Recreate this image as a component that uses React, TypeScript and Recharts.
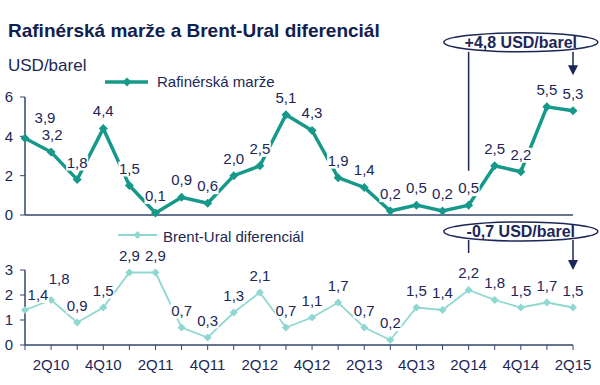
import React from 'react';
import { LineChart, Line, XAxis, YAxis, LabelList, ReferenceLine, ReferenceDot } from 'recharts';

const quarters = [
  '1Q10', '2Q10', '3Q10', '4Q10', '1Q11', '2Q11', '3Q11', '4Q11',
  '1Q12', '2Q12', '3Q12', '4Q12', '1Q13', '2Q13', '3Q13', '4Q13',
  '1Q14', '2Q14', '3Q14', '4Q14', '1Q15', '2Q15',
];
const refiningMargin = [3.9, 3.2, 1.8, 4.4, 1.5, 0.1, 0.9, 0.6, 2.0, 2.5, 5.1, 4.3, 1.9, 1.4, 0.2, 0.5, 0.2, 0.5, 2.5, 2.2, 5.5, 5.3];
const brentUral = [1.4, 1.8, 0.9, 1.5, 2.9, 2.9, 0.7, 0.3, 1.3, 2.1, 0.7, 1.1, 1.7, 0.7, 0.2, 1.5, 1.4, 2.2, 1.8, 1.5, 1.7, 1.5];
const topTicks = [0, 2, 4, 6];
const bottomTicks = [0, 1, 2, 3];

const topData = quarters.map((q, i) => ({ q, v: refiningMargin[i] }));
const bottomData = quarters.map((q, i) => ({ q, v: brentUral[i] }));

const NAVY = '#1c2757';
const AXIS = '#34466b';
const TEAL = '#16998a';
const LIGHT = '#8fd8d1';
const FONT = '"Liberation Sans", Arial, sans-serif';

const fmt = (v: number) => v.toFixed(1).replace('.', ',');

const diamond = (color: string, r: number) => (props: any) => {
  const { cx, cy, index } = props;
  if (cx == null || cy == null) return <g key={index} />;
  return (
    <path
      key={index}
      d={`M${cx},${cy - r}L${cx + r},${cy}L${cx},${cy + r}L${cx - r},${cy}Z`}
      fill={color}
    />
  );
};

// first two labels are nudged apart, as in the original
const valueLabel = (nudge: Record<number, [number, number]>) => (props: any) => {
  const { x, y, value, index } = props;
  const [dx, dy] = nudge[index] || [0, 0];
  const cx = x + dx;
  const cy = y - 17 + dy;
  return (
    <g key={index}>
      <rect x={cx - 11} y={cy - 7} width={22} height={15} fill="#fff" />
      <text x={cx} y={cy + 5} textAnchor="middle" fontSize={15} fontFamily={FONT} fill={NAVY}>
        {fmt(value)}
      </text>
    </g>
  );
};

const arrowShape = (props: any) => {
  const { x1, y1, x2, y2 } = props;
  return (
    <g>
      <line x1={x1} y1={y1} x2={x2} y2={y2 - 9} stroke={NAVY} strokeWidth={1.5} />
      <path d={`M${x2 - 5},${y2 - 10}L${x2 + 5},${y2 - 10}L${x2},${y2}Z`} fill={NAVY} />
    </g>
  );
};

const plainShape = (props: any) => {
  const { x1, y1, x2, y2 } = props;
  return <line x1={x1} y1={y1} x2={x2} y2={y2} stroke={NAVY} strokeWidth={1.5} />;
};

const bubble = (text: string) => (props: any) => {
  const { cx, cy } = props;
  return (
    <g>
      <ellipse cx={cx} cy={cy} rx={77} ry={9.5} fill="#fff" stroke={NAVY} strokeWidth={1.5} />
      <text x={cx} y={cy + 5.5} textAnchor="middle" fontSize={16} fontWeight="bold" fontFamily={FONT} fill={NAVY}>
        {text}
      </text>
    </g>
  );
};

const tickStyle = { fill: NAVY, fontSize: 15, fontFamily: FONT };

export default function App() {
  return (
    <div style={{ position: 'absolute', left: 0, top: 0, width: 600, height: 385, background: '#fff', fontFamily: FONT, color: NAVY }}>
      <div style={{ position: 'absolute', left: 8, top: 20, fontSize: 19, lineHeight: '22px', fontWeight: 'bold', color: '#10204f', whiteSpace: 'nowrap' }}>
        Rafinérská marže a Brent-Ural diferenciál
      </div>
      <div style={{ position: 'absolute', left: 8, top: 56, fontSize: 17, lineHeight: '19px' }}>USD/barel</div>

      <div style={{ position: 'absolute', left: 0, top: 0 }}>
        <LineChart width={600} height={222} data={topData} margin={{ top: 97, right: 27, bottom: 0, left: 0 }}>
          <XAxis dataKey="q" height={7} tick={false} tickLine={false} axisLine={{ stroke: AXIS, strokeWidth: 1.5 }} />
          <YAxis
            width={25}
            domain={[0, 6]}
            ticks={topTicks}
            interval={0}
            tick={tickStyle}
            tickSize={5}
            tickMargin={7}
            tickLine={{ stroke: AXIS }}
            axisLine={{ stroke: AXIS, strokeWidth: 1.5 }}
          />
          <Line
            dataKey="v"
            stroke={TEAL}
            strokeWidth={3.5}
            dot={diamond(TEAL, 4.5)}
            activeDot={false}
            isAnimationActive={false}
          >
            <LabelList dataKey="v" content={valueLabel({ 0: [20, -3], 1: [1, 0] })} />
          </Line>
          <ReferenceLine segment={[{ x: '2Q14', y: 2.25 }, { x: '2Q14', y: 8.3 }]} ifOverflow="visible" shape={plainShape} />
          <ReferenceLine segment={[{ x: '2Q15', y: 8.3 }, { x: '2Q15', y: 7.1 }]} ifOverflow="visible" shape={arrowShape} />
          <ReferenceDot x="4Q14" y={8.78} ifOverflow="visible" shape={bubble('+4,8 USD/barel')} />
        </LineChart>
      </div>

      <div style={{ position: 'absolute', left: 0, top: 215 }}>
        <LineChart width={600} height={170} data={bottomData} margin={{ top: 55, right: 27, bottom: 0, left: 0 }}>
          <XAxis
            dataKey="q"
            height={40}
            interval={0}
            tick={tickStyle}
            tickFormatter={(v: string, i: number) => (i % 2 === 1 ? v : '')}
            tickSize={5}
            tickMargin={9}
            tickLine={{ stroke: AXIS }}
            axisLine={{ stroke: AXIS, strokeWidth: 1.5 }}
          />
          <YAxis
            width={25}
            domain={[0, 3]}
            ticks={bottomTicks}
            interval={0}
            tick={tickStyle}
            tickSize={5}
            tickMargin={7}
            tickLine={{ stroke: AXIS }}
            axisLine={{ stroke: AXIS, strokeWidth: 1.5 }}
          />
          <Line
            dataKey="v"
            stroke={LIGHT}
            strokeWidth={1.8}
            dot={diamond(LIGHT, 4)}
            activeDot={false}
            isAnimationActive={false}
          >
            <LabelList dataKey="v" content={valueLabel({ 0: [13, 2], 1: [8, -4] })} />
          </Line>
          <ReferenceLine segment={[{ x: '2Q14', y: 3.68 }, { x: '2Q14', y: 4.2 }]} ifOverflow="visible" shape={plainShape} />
          <ReferenceLine segment={[{ x: '2Q15', y: 4.2 }, { x: '2Q15', y: 3.0 }]} ifOverflow="visible" shape={arrowShape} />
          <ReferenceDot x="4Q14" y={4.54} ifOverflow="visible" shape={bubble('-0,7 USD/barel')} />
        </LineChart>
      </div>

      <div style={{ position: 'absolute', left: 105, top: 73 }}>
        <svg width={44} height={18} style={{ display: 'block' }}>
          <line x1={0} y1={9} x2={43} y2={9} stroke={TEAL} strokeWidth={3.5} />
          <path d="M22,4.5L26.5,9L22,13.5L17.5,9Z" fill={TEAL} />
        </svg>
      </div>
      <div style={{ position: 'absolute', left: 157, top: 73, fontSize: 15, lineHeight: '17px', whiteSpace: 'nowrap' }}>Rafinérská marže</div>

      <div style={{ position: 'absolute', left: 118, top: 226 }}>
        <svg width={40} height={18} style={{ display: 'block' }}>
          <line x1={0} y1={9} x2={39} y2={9} stroke={LIGHT} strokeWidth={1.8} />
          <path d="M19.5,5L23.5,9L19.5,13L15.5,9Z" fill={LIGHT} />
        </svg>
      </div>
      <div style={{ position: 'absolute', left: 163, top: 228, fontSize: 15, lineHeight: '17px', whiteSpace: 'nowrap' }}>Brent-Ural diferenciál</div>
    </div>
  );
}
